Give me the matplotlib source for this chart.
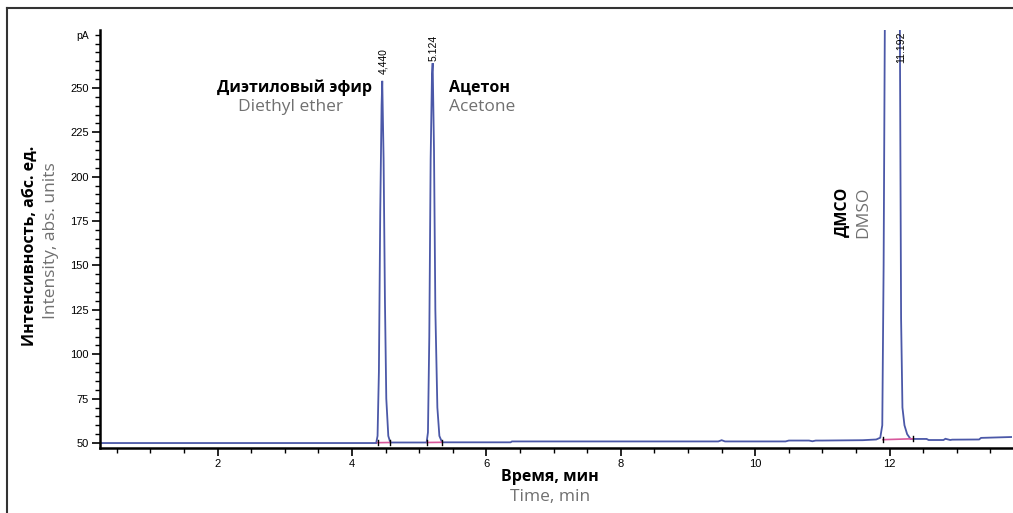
import matplotlib.pyplot as plt
from matplotlib.lines import Line2D
from matplotlib.ticker import MultipleLocator

# trace (time, min / signal, pA)
time = [0.25, 4.36, 4.38, 4.40, 4.42, 4.44, 4.45, 4.47, 4.49, 4.51, 4.54, 4.57,
        5.11, 5.13, 5.15, 5.17, 5.19, 5.20, 5.22, 5.24, 5.27, 5.30, 5.34,
        6.36, 6.38, 9.45, 9.50, 9.55, 10.45, 10.50, 10.80, 10.85, 10.90, 11.00,
        11.60, 11.80, 11.86, 11.89, 11.91, 11.93, 12.15, 12.17, 12.19, 12.22,
        12.26, 12.31, 12.55, 12.58, 12.80, 12.83, 12.90, 12.93, 13.33, 13.36,
        13.82]
signal = [50.0, 50.0, 54, 90, 180, 240, 254, 210, 130, 75, 54, 50.3,
          50.3, 56, 110, 210, 258, 264, 215, 125, 70, 54, 50.4,
          50.4, 50.9, 50.9, 51.6, 50.9, 50.9, 51.4, 51.4, 51.0, 51.4, 51.4,
          51.6, 52.0, 53.0, 60, 150, 300, 300, 120, 70, 60,
          55, 52.3, 52.3, 51.7, 51.7, 52.4, 51.7, 51.9, 52.0, 52.9,
          53.4]

# integration baselines under the peaks
base_start = [4.38, 5.12, 11.90]
base_end = [4.57, 5.34, 12.35]
base_lo = [50.2, 50.3, 51.9]
base_hi = [50.3, 50.4, 52.4]

peak_rt = [4.47, 5.22, 12.17]
peak_lbl = ["4,440", "5.124", "11.192"]
peak_lbl_y = [258, 265, 264]

compounds_ru = ["Диэтиловый эфир", "Ацетон"]
compounds_en = ["Diethyl ether", "Acetone"]

blue = "#4b58a8"
gray = "#707070"

fig = plt.figure(figsize=(10.13, 5.13), dpi=100)
ax = fig.add_axes([0.0987, 0.1267, 0.9003, 0.815])

ax.plot(time, signal, color=blue, lw=1.3, solid_joinstyle="miter")
for s, e, lo, hi in zip(base_start, base_end, base_lo, base_hi):
    ax.plot([s, e], [lo, hi], color="#d8589c", lw=1.2)
    ax.plot([s, s], [lo + 1.5, lo - 1.5], color="black", lw=1)
    ax.plot([e, e], [hi + 1.5, hi - 1.5], color="black", lw=1)

ax.set_xlim(0.25, 13.82)
ax.set_ylim(47.2, 282.7)
ax.xaxis.set_major_locator(MultipleLocator(2))
ax.xaxis.set_minor_locator(MultipleLocator(0.5))
ax.yaxis.set_minor_locator(MultipleLocator(5))
ax.set_yticks([50, 75, 100, 125, 150, 175, 200, 225, 250])
ax.tick_params(which="major", direction="out", length=6, width=1.2, labelsize=8,
               pad=2)
ax.tick_params(which="minor", direction="out", length=3.5, width=1)
for lab in ax.get_xticklabels() + ax.get_yticklabels():
    lab.set_fontfamily("Liberation Sans")
ax.spines["top"].set_visible(False)
ax.spines["right"].set_visible(False)
ax.spines["left"].set_linewidth(1.8)
ax.spines["bottom"].set_linewidth(1.8)

ax.text(-0.012, 279, "pA", transform=ax.get_yaxis_transform(), ha="right",
        va="center", fontsize=7.5, family="Liberation Sans")

for rt, lbl, yy in zip(peak_rt, peak_lbl, peak_lbl_y):
    ax.text(rt, yy, lbl, rotation=90, ha="center", va="bottom", fontsize=7.5,
            family="Liberation Sans")

# compound names
ax.text(4.30, 250, compounds_ru[0], ha="right", va="center",
        fontsize=11.5, fontweight="bold", family="Open Sans")
ax.text(3.08, 239, compounds_en[0], ha="center", va="center",
        fontsize=12.5, color=gray, family="Open Sans")
ax.text(5.45, 250, compounds_ru[1], ha="left", va="center",
        fontsize=11.5, fontweight="bold", family="Open Sans")
ax.text(5.44, 239, compounds_en[1], ha="left", va="center",
        fontsize=12.5, color=gray, family="Open Sans")

ax.text(11.30, 180, "ДМСО", rotation=90, ha="center", va="center",
        fontsize=11.5, fontweight="bold", family="Open Sans")
ax.text(11.61, 180, "DMSO", rotation=90, ha="center", va="center",
        fontsize=12.5, color=gray, family="Open Sans")

fig.text(0.03, 0.52, "Интенсивность, абс. ед.", rotation=90, ha="center",
         va="center", fontsize=11.5, fontweight="bold", family="Open Sans")
fig.text(0.05, 0.53, "Intensity, abs. units", rotation=90, ha="center",
         va="center", fontsize=12.5, color=gray, family="Open Sans")
fig.text(0.543, 0.07, "Время, мин", ha="center", va="center",
         fontsize=11.5, fontweight="bold", family="Open Sans")
fig.text(0.543, 0.031, "Time, min", ha="center", va="center",
         fontsize=12.5, color=gray, family="Open Sans")

# page frame
fig.add_artist(Line2D([0.007, 1.0], [0.984, 0.984], color="#333333", lw=1.5,
                      transform=fig.transFigure))
fig.add_artist(Line2D([0.007, 0.007], [0.0, 0.984], color="#333333", lw=1.5,
                      transform=fig.transFigure))

fig.savefig("out.png", dpi=100)
